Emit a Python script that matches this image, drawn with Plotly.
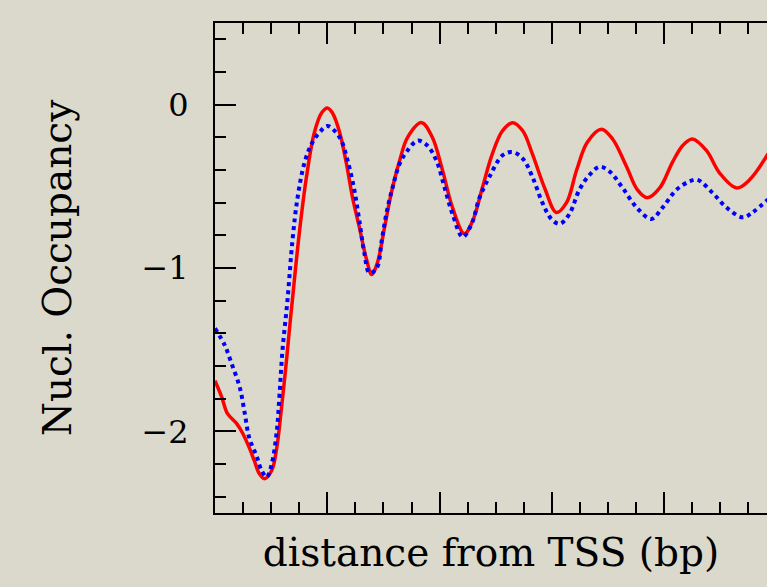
import plotly.graph_objects as go

# distance from TSS (bp) and nucleosome occupancy values
red_x = [-200, -188, -178, -162, -151, -139, -130, -121, -112, -99, -90, -82, -74, -67, -62,
         -50, -37, -23, -10, 0, 9, 22, 34, 45, 57, 70, 79, 89, 102, 114, 129, 143, 168,
         187, 205, 223, 244, 259, 276, 294, 312, 330, 348, 365, 387, 408, 426, 444, 463,
         488, 508, 533, 552, 570, 592, 615, 633, 650, 675, 699, 729, 752, 785]
red_y = [-1.69, -1.79, -1.89, -1.95, -2.01, -2.10, -2.18, -2.26, -2.29, -2.24, -2.10, -1.87, -1.61, -1.36, -1.19,
         -0.79, -0.44, -0.17, -0.05, -0.02, -0.05, -0.17, -0.36, -0.57, -0.75, -0.95, -1.04, -0.97, -0.75, -0.54, -0.34, -0.20, -0.11,
         -0.20, -0.40, -0.63, -0.79, -0.71, -0.51, -0.30, -0.16, -0.11, -0.16, -0.30, -0.51, -0.66, -0.60, -0.40, -0.23,
         -0.15, -0.21, -0.38, -0.52, -0.57, -0.51, -0.35, -0.25, -0.21, -0.28, -0.42, -0.51, -0.46, -0.30]

blue_x = [-200, -183, -171, -156, -147, -139, -126, -117, -108, -99, -90, -85, -80, -71, -62,
          -53, -41, -28, -14, 0, 13, 25, 36, 48, 57, 66, 75, 88, 97, 105, 116, 129, 143,
          161, 178, 194, 209, 223, 241, 257, 271, 289, 312, 330, 348, 365, 383, 399, 414,
          431, 449, 467, 485, 503, 526, 551, 577, 597, 622, 645, 659, 686, 711, 740, 757, 785]
blue_y = [-1.37, -1.47, -1.58, -1.73, -1.89, -2.04, -2.15, -2.24, -2.28, -2.20, -2.00, -1.77, -1.51, -1.20, -0.83,
          -0.57, -0.36, -0.24, -0.17, -0.13, -0.16, -0.22, -0.34, -0.52, -0.71, -0.91, -1.03, -1.00, -0.83, -0.67, -0.51, -0.36, -0.28,
          -0.22, -0.25, -0.34, -0.51, -0.67, -0.81, -0.73, -0.57, -0.44, -0.31, -0.29, -0.33, -0.44, -0.60, -0.70, -0.73,
          -0.67, -0.52, -0.43, -0.38, -0.41, -0.51, -0.63, -0.70, -0.63, -0.52, -0.47, -0.46, -0.54, -0.63, -0.69, -0.66, -0.58]

x_range = [-200, 783]
y_range = [-2.5, 0.5]

bg = "#dad9cc"
font_family = "DejaVu Serif"

fig = go.Figure()
fig.add_trace(go.Scatter(x=red_x, y=red_y, mode="lines",
                         line=dict(color="#ff0000", width=3.5, shape="spline", smoothing=1.0),
                         showlegend=False))
fig.add_trace(go.Scatter(x=blue_x, y=blue_y, mode="lines",
                         line=dict(color="#0000ff", width=4, dash="4px,4px", shape="spline", smoothing=1.0),
                         showlegend=False))

fig.update_layout(
    width=767, height=587,
    margin=dict(l=215, r=0, t=23, b=74),
    paper_bgcolor=bg, plot_bgcolor=bg,
    font=dict(family=font_family, color="black", size=32),
    xaxis=dict(
        range=x_range, showgrid=False, zeroline=False,
        showline=True, linecolor="black", linewidth=2, mirror="ticks",
        ticks="inside", tickmode="linear", tick0=0, dtick=200, ticklen=21, tickwidth=2, tickcolor="black",
        minor=dict(ticks="inside", dtick=50, tick0=0, ticklen=11, tickwidth=2, tickcolor="black"),
        showticklabels=False,
        title=dict(text="distance from TSS (bp)", font=dict(size=39), standoff=25),
    ),
    yaxis=dict(
        range=y_range, showgrid=False, zeroline=False,
        showline=True, linecolor="black", linewidth=2,
        ticks="inside", tickmode="linear", tick0=0, dtick=1, ticklen=21, tickwidth=2, tickcolor="black",
        minor=dict(ticks="inside", dtick=0.2, tick0=0, ticklen=11, tickwidth=2, tickcolor="black"),
        ticklabelstandoff=18,
        tickfont=dict(size=32),
        title=dict(text="Nucl. Occupancy", font=dict(size=39), standoff=58),
    ),
    yaxis2=dict(
        range=y_range, overlaying="y", side="right", anchor="x",
        showgrid=False, zeroline=False, showline=False,
        ticks="inside", tickmode="linear", tick0=0, dtick=1, ticklen=12, tickwidth=2, tickcolor="black",
        minor=dict(ticks="inside", dtick=0.2, tick0=0, ticklen=2, tickwidth=2, tickcolor="black"),
        showticklabels=False,
    ),
)

fig.write_html("out.html")
